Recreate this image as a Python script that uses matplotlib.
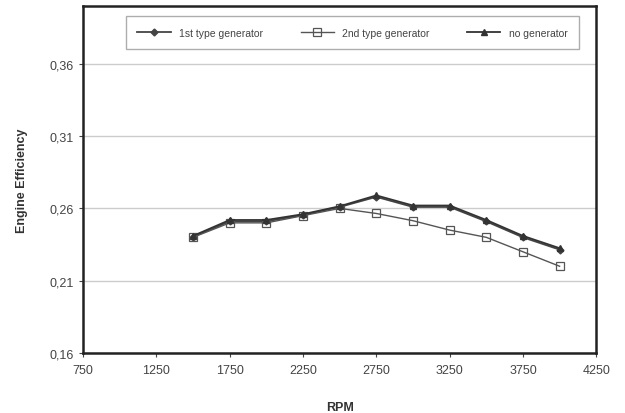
import numpy as np
import matplotlib
matplotlib.use("Agg")
import matplotlib.pyplot as plt

plt.rcParams['font.family'] = ['Liberation Sans', 'DejaVu Sans']

rpm = [1500, 1750, 2000, 2250, 2500, 2750, 3000, 3250, 3500, 3750, 4000]
gen1 = [0.2405, 0.2510, 0.2510, 0.2555, 0.2610, 0.2680, 0.2610, 0.2610, 0.2510, 0.2400, 0.2315]
gen2 = [0.2400, 0.2500, 0.2500, 0.2550, 0.2600, 0.2565, 0.2515, 0.2450, 0.2400, 0.2300, 0.2200]
nogen = [0.2410, 0.2520, 0.2520, 0.2560, 0.2615, 0.2690, 0.2620, 0.2620, 0.2520, 0.2410, 0.2325]

xticks = [750, 1250, 1750, 2250, 2750, 3250, 3750, 4250]
yticks = [0.16, 0.21, 0.26, 0.31, 0.36]
ylabels = ["0,16", "0,21", "0,26", "0,31", "0,36"]

fig = plt.figure(figsize=(6.25, 4.14), dpi=100)
ax = fig.add_axes([0.133, 0.145, 0.821, 0.838])

ax.plot(rpm, gen1, color='#444444', lw=1.3, marker='D', ms=3.5, mfc='#444444', mec='#444444', label='1st type generator')
ax.plot(rpm, gen2, color='#555555', lw=1.0, marker='s', ms=6, mfc='none', mec='#555555', mew=0.9, label='2nd type generator')
ax.plot(rpm, nogen, color='#333333', lw=1.3, marker='^', ms=4.5, mfc='#333333', mec='#333333', label='no generator')

ax.set_xlim(750, 4250)
ax.set_ylim(0.16, 0.40)
ax.set_xticks(xticks)
ax.set_xticklabels([str(t) for t in xticks])
ax.set_yticks(yticks)
ax.set_yticklabels(ylabels)
ax.yaxis.grid(True, color='#cccccc', lw=1)
ax.set_axisbelow(True)
for s in ax.spines.values():
    s.set_linewidth(1.8)
    s.set_color('#222222')
ax.tick_params(labelsize=9, colors='#444444', length=3, width=0.8)
ax.tick_params(axis='x', pad=5)

ax.set_xlabel('RPM', fontsize=9, fontweight='bold', color='#333333', labelpad=18)
ax.set_ylabel('Engine Efficiency', fontsize=9, fontweight='bold', color='#333333', labelpad=16)

leg = ax.legend(loc='upper center', bbox_to_anchor=(0.525, 0.97), ncol=3, fontsize=7.5,
                frameon=True, fancybox=False, edgecolor='#999999', handlelength=3.2,
                columnspacing=3.6, borderpad=1.1, borderaxespad=0)
leg.get_frame().set_linewidth(1.0)
for t in leg.get_texts():
    t.set_color('#444444')

fig.savefig('out.png', dpi=100)
